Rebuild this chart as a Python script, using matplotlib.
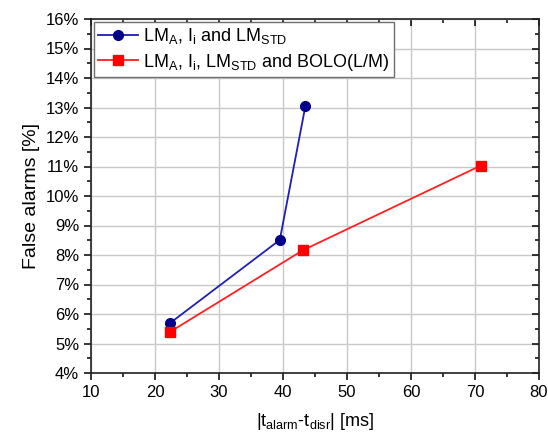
import matplotlib
matplotlib.use('Agg')
import matplotlib.pyplot as plt
from matplotlib.ticker import MultipleLocator, FuncFormatter

plt.rcParams['font.family'] = ['Liberation Sans', 'DejaVu Sans']
plt.rcParams['mathtext.fontset'] = 'custom'
plt.rcParams['mathtext.rm'] = 'Liberation Sans'
plt.rcParams['mathtext.it'] = 'Liberation Sans'

# data
t_blue = [22.4, 39.5, 43.5]
fa_blue = [5.70, 8.51, 13.05]
t_red = [22.4, 43.1, 70.9]
fa_red = [5.40, 8.16, 11.03]

label_blue = r'LM$_\mathregular{A}$, I$_\mathregular{i}$ and LM$_\mathregular{STD}$'
label_red = r'LM$_\mathregular{A}$, I$_\mathregular{i}$, LM$_\mathregular{STD}$ and BOLO(L/M)'

fig = plt.figure(figsize=(5.48, 4.33), dpi=100)
ax = fig.add_axes([91/548, 1 - 373/433, (539-91)/548, (373-19)/433])

ax.plot(t_blue, fa_blue, color='#1f1fb4', marker='o', markersize=7,
        markerfacecolor='#00008b', markeredgecolor='#00008b', lw=1.3, label=label_blue)
ax.plot(t_red, fa_red, color='#ff2020', marker='s', markersize=6.5,
        markerfacecolor='#ff0000', markeredgecolor='#ff0000', lw=1.3, label=label_red)

ax.set_xlim(10, 80)
ax.set_ylim(4, 16)
ax.xaxis.set_major_locator(MultipleLocator(10))
ax.xaxis.set_minor_locator(MultipleLocator(5))
ax.yaxis.set_major_locator(MultipleLocator(1))
ax.yaxis.set_minor_locator(MultipleLocator(0.5))
ax.yaxis.set_major_formatter(FuncFormatter(lambda v, p: f'{v:.0f}%'))

ax.grid(True, which='major', color='#c8c8c8', lw=1.0)
ax.set_axisbelow(True)

for s in ax.spines.values():
    s.set_linewidth(1.2)
    s.set_color('#222222')

ax.tick_params(which='both', labelsize=12, width=1.1)
ax.tick_params(which='major', length=5)
ax.tick_params(which='minor', length=3)
ax.tick_params(which='both', bottom=True, left=True, direction='out')
ax.tick_params(which='both', top=True, right=True, labeltop=False, labelright=False)
# top and right ticks point inward
for t in ax.xaxis.get_major_ticks() + ax.xaxis.get_minor_ticks():
    t.tick2line.set_marker(3)
for t in ax.yaxis.get_major_ticks() + ax.yaxis.get_minor_ticks():
    t.tick2line.set_marker(0)

ax.set_xlabel(r'|t$_\mathregular{alarm}$-t$_\mathregular{disr}$| [ms]', fontsize=13, labelpad=8)
ax.set_ylabel('False alarms [%]', fontsize=14, labelpad=4)

leg = ax.legend(loc='upper left', fontsize=13, frameon=True, fancybox=False,
                borderaxespad=0.15, handlelength=2.2, labelspacing=0.3,
                borderpad=0.25, handletextpad=0.3)
leg.get_frame().set_edgecolor('#707070')
leg.get_frame().set_linewidth(1.0)
leg.get_frame().set_alpha(1)

fig.savefig('out.png', dpi=100)
